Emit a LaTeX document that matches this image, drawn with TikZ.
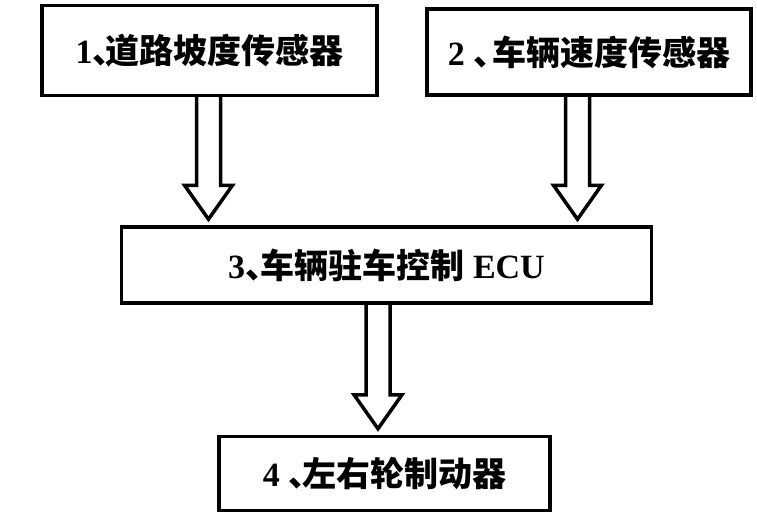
\documentclass[tikz,border=0pt]{standalone}
\usepackage{fontspec}
\setmainfont{Liberation Serif}
\newfontfamily\cjk{Noto Sans CJK SC}
\usetikzlibrary{calc}
\tikzset{
  every picture/.style = {
    x = 1pt,
    y = 1pt,
  }
  ,
  block/.style = {
    rectangle,
    draw,
    line width = 3.5pt,
    inner sep = 0pt,
    font = \fontsize{34}{38}\selectfont\bfseries
  }
  , % open double-line arrows between blocks
  hollow/.style = {
    line width = 3.5pt,
    line join = miter
  }
}
% #1 upper block, #2 lower block, #3 x of the arrow
\newcommand{\hollowarrow}[3]{%
  \draw[hollow] let \p1 = (#1.south), \p2 = (#2.north) in
    (#3-12,\y1) -- (#3-12,\y2+40) -- (#3-24,\y2+40) -- (#3,\y2+6)
    -- (#3+24,\y2+40) -- (#3+12,\y2+40) -- (#3+12,\y1);
}

\begin{document}
\begin{tikzpicture}
\useasboundingbox[fill=white] (0,0) rectangle (757,515);

\node[block, minimum width=335pt, minimum height=90pt] (slope) at (209.5,464.5)
  {1{\cjk 、}\kern-.62em{\cjk 道路坡度传感器}};
\node[block, minimum width=324pt, minimum height=86pt] (speed) at (589,463)
  {2 {\cjk 、}\kern-.45em{\cjk 车辆速度传感器}};
\node[block, minimum width=530pt, minimum height=76pt] (ecu) at (386.5,250)
  {3{\cjk 、}\kern-.55em{\cjk 车辆驻车控制} ECU};
\node[block, minimum width=331pt, minimum height=74pt] (brake) at (384.5,41.5)
  {4 {\cjk 、}\kern-.6em{\cjk 左右轮制动器}};

\hollowarrow{slope}{ecu}{208.5}
\hollowarrow{speed}{ecu}{577.5}
\hollowarrow{ecu}{brake}{378}
\end{tikzpicture}
\end{document}
